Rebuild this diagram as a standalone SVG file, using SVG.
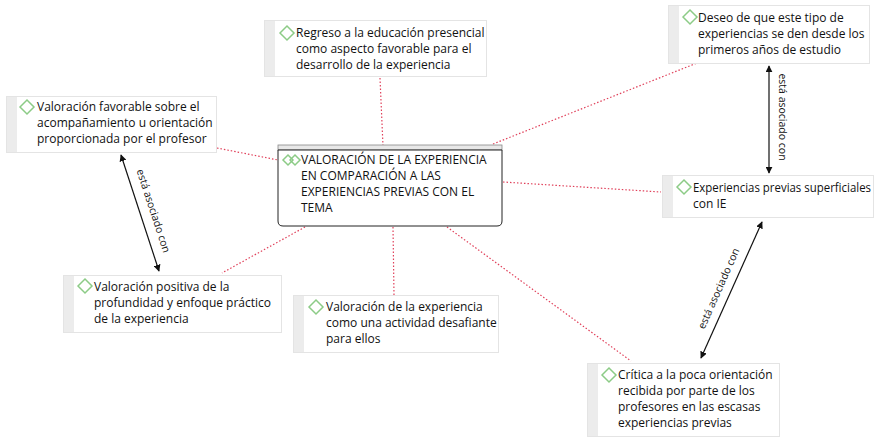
<svg xmlns="http://www.w3.org/2000/svg" width="886" height="442" viewBox="0 0 886 442">
<style>
.box{fill:#fff;stroke:#e4e4e4;stroke-width:1}
.strip{fill:#ececec}
.dia{fill:none;stroke:#8ccb86;stroke-width:1.5}
.t{font-family:"Open Sans","Liberation Sans",sans-serif;font-size:12px;fill:#111}
.lab{font-family:"Open Sans","Liberation Sans",sans-serif;font-size:10.5px;fill:#111}
.red{stroke:#e0405a;stroke-width:1.2;stroke-dasharray:1.5 2;fill:none}
.assoc{stroke:#111;stroke-width:1.2;fill:none;marker-start:url(#a);marker-end:url(#a)}
</style>
<defs>
<marker id="a" viewBox="0 0 10 10" refX="9" refY="5" markerWidth="7" markerHeight="7" orient="auto-start-reverse" markerUnits="userSpaceOnUse">
<path d="M0,0 L10,5 L0,10 z" fill="#111"/>
</marker>
</defs>
<rect width="886" height="442" fill="#fff"/>
<g id="connectors">
<line class="red" x1="380" y1="78" x2="383" y2="146"/>
<line class="red" x1="493" y1="144" x2="697" y2="63"/>
<line class="red" x1="503" y1="182" x2="661" y2="192"/>
<line class="red" x1="447" y1="227" x2="631" y2="361"/>
<line class="red" x1="393" y1="227" x2="394" y2="295"/>
<line class="red" x1="305" y1="227" x2="222" y2="273"/>
<line class="red" x1="217" y1="148" x2="278" y2="160"/>
<line class="assoc" x1="121" y1="155" x2="159" y2="271"/>
<line class="assoc" x1="769" y1="66" x2="769" y2="173"/>
<line class="assoc" x1="762" y1="222" x2="701" y2="358"/>
<text class="lab" transform="translate(150,212) rotate(72)" text-anchor="middle">está asociado con</text>
<text class="lab" transform="translate(779,117) rotate(90)" text-anchor="middle">está asociado con</text>
<text class="lab" transform="translate(722,290) rotate(-66)" text-anchor="middle">está asociado con</text>
</g>
<g id="center">
<rect x="278" y="145" width="224" height="5" fill="#e8e8e8" stroke="#888" stroke-width="0.8"/>
<path d="M278,150 H502 V221 Q502,226 497,226 H283 Q278,226 278,221 Z" fill="#fff" stroke="#222" stroke-width="1"/>
<path class="dia" d="M283,160 L288,155 L293,160 L288,165 Z"/>
<path class="dia" d="M290,160 L295,155 L300,160 L295,165 Z"/>
<text class="t"><tspan x="301" y="164">VALORACIÓN DE LA EXPERIENCIA</tspan><tspan x="301" y="180">EN COMPARACIÓN A LAS</tspan><tspan x="301" y="196">EXPERIENCIAS PREVIAS CON EL</tspan><tspan x="301" y="212">TEMA</tspan></text>
</g>
<g id="n1">
<rect class="box" x="264.5" y="20.5" width="222" height="56"/>
<rect class="strip" x="265" y="21" width="10" height="55"/>
<path class="dia" d="M280,33 L287,26 L294,33 L287,40 Z"/>
<text class="t"><tspan x="296" y="37">Regreso a la educación presencial</tspan><tspan x="296" y="53">como aspecto favorable para el</tspan><tspan x="296" y="69">desarrollo de la experiencia</tspan></text>
</g>
<g id="n2">
<rect class="box" x="6.5" y="96.5" width="210" height="56"/>
<rect class="strip" x="7" y="97" width="10" height="55"/>
<path class="dia" d="M20,107 L27,100 L34,107 L27,114 Z"/>
<text class="t"><tspan x="37" y="111">Valoración favorable sobre el</tspan><tspan x="37" y="127">acompañamiento u orientación</tspan><tspan x="37" y="143">proporcionada por el profesor</tspan></text>
</g>
<g id="n3">
<rect class="box" x="63.5" y="275.5" width="218" height="57"/>
<rect class="strip" x="64" y="276" width="10" height="56"/>
<path class="dia" d="M78,286 L85,279 L92,286 L85,293 Z"/>
<text class="t"><tspan x="94" y="291">Valoración positiva de la</tspan><tspan x="94" y="307">profundidad y enfoque práctico</tspan><tspan x="94" y="323">de la experiencia</tspan></text>
</g>
<g id="n4">
<rect class="box" x="293.5" y="295.5" width="205" height="57"/>
<rect class="strip" x="294" y="296" width="10" height="56"/>
<path class="dia" d="M309,307 L316,300 L323,307 L316,314 Z"/>
<text class="t"><tspan x="326" y="311">Valoración de la experiencia</tspan><tspan x="326" y="327">como una actividad desafiante</tspan><tspan x="326" y="343">para ellos</tspan></text>
</g>
<g id="n5">
<rect class="box" x="668.5" y="5.5" width="201" height="58"/>
<rect class="strip" x="669" y="6" width="10" height="57"/>
<path class="dia" d="M683,17 L690,10 L697,17 L690,24 Z"/>
<text class="t"><tspan x="698" y="22">Deseo de que este tipo de</tspan><tspan x="698" y="38">experiencias se den desde los</tspan><tspan x="698" y="54">primeros años de estudio</tspan></text>
</g>
<g id="n6">
<rect class="box" x="662.5" y="175.5" width="211" height="42"/>
<rect class="strip" x="663" y="176" width="10" height="41"/>
<path class="dia" d="M677,187 L684,180 L691,187 L684,194 Z"/>
<text class="t"><tspan x="693" y="192" textLength="178" lengthAdjust="spacingAndGlyphs">Experiencias previas superficiales</tspan><tspan x="693" y="208">con IE</tspan></text>
</g>
<g id="n7">
<rect class="box" x="587.5" y="363.5" width="192" height="73"/>
<rect class="strip" x="588" y="364" width="10" height="72"/>
<path class="dia" d="M602,375 L609,368 L616,375 L609,382 Z"/>
<text class="t"><tspan x="618" y="379">Crítica a la poca orientación</tspan><tspan x="618" y="395">recibida por parte de los</tspan><tspan x="618" y="411">profesores en las escasas</tspan><tspan x="618" y="427">experiencias previas</tspan></text>
</g>
</svg>
